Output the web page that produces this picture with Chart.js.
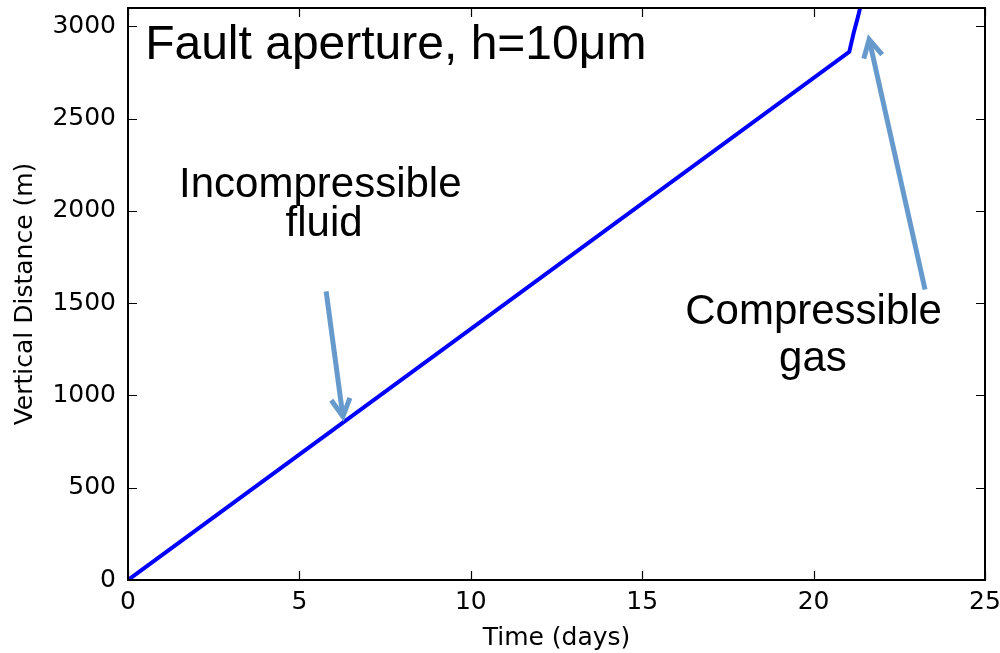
<!DOCTYPE html>
<html>
<head>
<meta charset="utf-8">
<script src="https://cdn.jsdelivr.net/npm/chart.js@4.4.1/dist/chart.umd.min.js"></script>
<style>
    html, body { margin: 0; padding: 0; background: #fff; }
    #wrap { width: 1000px; height: 653px; }
</style>
</head>
<body>
<div id="wrap"><canvas id="faultChart" width="1000" height="653"></canvas></div>
<script>
// Datos
const timeDays = [0, 21.04, 21.17, 21.30, 21.36, 21.39];
const depthM = [0, 2862, 2966, 3056, 3103, 3160];
const xTicks = [0, 5, 10, 15, 20, 25];
const yTicks = [0, 500, 1000, 1500, 2000, 2500, 3000];

// Anotaciones (coordenadas en unidades de datos)
const titleText = { text: 'Fault aperture, h=10\u03bcm', x: 0.5, y: 2821 };
const fluidLabel = [
    { text: 'Incompressible', x: 5.61, y: 2075 },
    { text: 'fluid', x: 5.72, y: 1863 }
];
const gasLabel = [
    { text: 'Compressible', x: 20.0, y: 1389 },
    { text: 'gas', x: 19.98, y: 1134 }
];
const arrows = [
    { from: [5.78, 1564], to: [6.27, 886] },
    { from: [23.25, 1574], to: [21.62, 2930] }
];

const tickFont = { family: 'DejaVu Sans', size: 25 };
const axisTitleFont = { family: 'DejaVu Sans', size: 25 };

// Quitar el relleno que Chart.js reserva para las etiquetas extremas
function noEdgePadding(s) {
    s.paddingTop = 0;
    s.paddingBottom = 0;
    s.paddingLeft = 0;
    s.paddingRight = 0;
}

// Dibuja marco, ticks interiores, flechas y textos
const annotatePlugin = {
    id: 'annotate',
    afterDraw(chart) {
        const ctx = chart.ctx;
        const xs = chart.scales.x;
        const ys = chart.scales.y;
        const a = chart.chartArea;

        ctx.save();
        ctx.strokeStyle = '#000';
        ctx.lineWidth = 2;
        ctx.strokeRect(a.left, a.top, a.right - a.left, a.bottom - a.top);

        ctx.lineWidth = 1.2;
        const len = 9;
        xTicks.forEach(v => {
            const px = Math.round(xs.getPixelForValue(v)) + 0.5;
            ctx.beginPath();
            ctx.moveTo(px, a.bottom); ctx.lineTo(px, a.bottom - len);
            ctx.moveTo(px, a.top); ctx.lineTo(px, a.top + len);
            ctx.stroke();
        });
        yTicks.forEach(v => {
            const py = Math.round(ys.getPixelForValue(v)) + 0.5;
            ctx.beginPath();
            ctx.moveTo(a.left, py); ctx.lineTo(a.left + len, py);
            ctx.moveTo(a.right, py); ctx.lineTo(a.right - len, py);
            ctx.stroke();
        });

        // flechas
        ctx.strokeStyle = '#6699cc';
        ctx.lineWidth = 5;
        ctx.lineCap = 'butt';
        ctx.lineJoin = 'miter';
        arrows.forEach(ar => {
            const x1 = xs.getPixelForValue(ar.from[0]);
            const y1 = ys.getPixelForValue(ar.from[1]);
            const x2 = xs.getPixelForValue(ar.to[0]);
            const y2 = ys.getPixelForValue(ar.to[1]);
            const ang = Math.atan2(y1 - y2, x1 - x2);
            const head = 20;
            const spread = 28 * Math.PI / 180;
            ctx.beginPath();
            ctx.moveTo(x1, y1);
            ctx.lineTo(x2 + 3 * Math.cos(ang), y2 + 3 * Math.sin(ang));
            ctx.stroke();
            ctx.beginPath();
            ctx.moveTo(x2 + head * Math.cos(ang + spread), y2 + head * Math.sin(ang + spread));
            ctx.lineTo(x2, y2);
            ctx.lineTo(x2 + head * Math.cos(ang - spread), y2 + head * Math.sin(ang - spread));
            ctx.stroke();
        });

        // textos
        ctx.fillStyle = '#000';
        ctx.textBaseline = 'alphabetic';
        ctx.font = '48px "Liberation Sans", Arial, sans-serif';
        ctx.textAlign = 'left';
        ctx.fillText(titleText.text, xs.getPixelForValue(titleText.x), ys.getPixelForValue(titleText.y));

        ctx.font = '42px "Liberation Sans", Arial, sans-serif';
        ctx.textAlign = 'center';
        fluidLabel.concat(gasLabel).forEach(t => {
            ctx.fillText(t.text, xs.getPixelForValue(t.x), ys.getPixelForValue(t.y));
        });
        ctx.restore();
    }
};

new Chart(document.getElementById('faultChart'), {
    type: 'scatter',
    data: {
        datasets: [{
            data: timeDays.map((t, i) => ({ x: t, y: depthM[i] })),
            showLine: true,
            borderColor: '#0000ff',
            borderWidth: 4,
            pointRadius: 0,
            tension: 0,
            fill: false
        }]
    },
    options: {
        responsive: false,
        animation: false,
        layout: { padding: { top: 8, right: 15, left: 0, bottom: 0 } },
        plugins: {
            legend: { display: false },
            tooltip: { enabled: false }
        },
        scales: {
            x: {
                type: 'linear',
                min: 0,
                max: 25,
                afterBuildTicks: s => { s.ticks = xTicks.map(v => ({ value: v })); },
                afterFit: s => { s.height = 73; noEdgePadding(s); },
                grid: { display: false, drawTicks: false },
                border: { display: false },
                ticks: { color: '#000', font: tickFont, padding: 7, maxRotation: 0, callback: v => String(v) },
                title: {
                    display: true,
                    text: 'Time (days)',
                    color: '#000',
                    font: axisTitleFont,
                    padding: { top: 0, bottom: 0 }
                }
            },
            y: {
                type: 'linear',
                min: 0,
                max: 3100,
                afterBuildTicks: s => { s.ticks = yTicks.map(v => ({ value: v })); },
                afterFit: s => { s.width = 128; noEdgePadding(s); },
                grid: { display: false, drawTicks: false },
                border: { display: false },
                ticks: { color: '#000', font: tickFont, padding: 12, callback: v => String(v) },
                title: {
                    display: true,
                    text: 'Vertical Distance (m)',
                    color: '#000',
                    font: axisTitleFont,
                    padding: { top: 10, bottom: 0 }
                }
            }
        }
    },
    plugins: [annotatePlugin]
});
</script>
</body>
</html>
